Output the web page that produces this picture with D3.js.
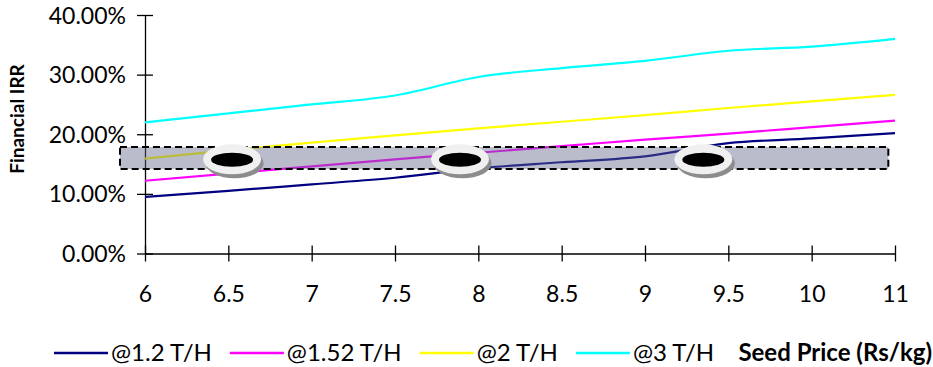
<!DOCTYPE html>
<html>
<head>
<meta charset="utf-8">
<script src="https://cdn.jsdelivr.net/npm/d3@7"></script>
<style>
  body { margin: 0; background: #fff; }
  text { font-family: Lato, "Open Sans", sans-serif; fill: #000; }
</style>
</head>
<body>
<div id="chart"></div>
<script>
// seed price categories (category axis, evenly spaced)
const categories = ["6", "6.5", "7", "7.5", "8", "8.5", "9", "9.5", "10", "11"];

// financial IRR per yield level
const irr12 = [0.095, 0.105, 0.116, 0.127, 0.143, 0.153, 0.163, 0.185, 0.193, 0.202];
const irr152 = [0.122, 0.134, 0.146, 0.158, 0.169, 0.180, 0.191, 0.201, 0.212, 0.223];
const irr2 = [0.159, 0.173, 0.186, 0.198, 0.210, 0.221, 0.232, 0.244, 0.255, 0.266];
const irr3 = [0.220, 0.235, 0.250, 0.265, 0.296, 0.311, 0.323, 0.340, 0.347, 0.360];

const seriesNames = ["@1.2 T/H", "@1.52 T/H", "@2 T/H", "@3 T/H"];
const seriesColors = ["#000080", "#ff00ff", "#ffff00", "#00ffff"];
const yTicks = [0, 0.1, 0.2, 0.3, 0.4];

// highlighted band (IRR range) and the three marker positions (category index)
const bandRange = [0.1417, 0.1786];
const bandIndex = [-0.3, 8.92];
const markerIndex = [1.045, 3.78, 6.7];
const markerIrr = 0.158;

const width = 933, height = 367;
const margin = { top: 15, right: 38, bottom: 113.5, left: 145 };

const svg = d3.select("#chart").append("svg")
  .attr("width", width)
  .attr("height", height);

const x = d3.scaleLinear()
  .domain([0, categories.length - 1])
  .range([margin.left, width - margin.right]);

const y = d3.scaleLinear()
  .domain([0, 0.4])
  .range([height - margin.bottom, margin.top]);

// y axis
const yAxisG = svg.append("g")
  .attr("transform", `translate(${margin.left},0)`)
  .call(d3.axisLeft(y).tickValues(yTicks).tickFormat(d3.format(".2%")).tickSizeOuter(0));
yAxisG.select(".domain").attr("stroke", "#000").attr("stroke-width", 1.3);
yAxisG.selectAll(".tick line").attr("x1", -8).attr("x2", 8).attr("stroke-width", 1.3);
yAxisG.selectAll(".tick text")
  .attr("x", -19).attr("dy", "0.35em")
  .style("font-size", "23px");

// x axis
const xAxisG = svg.append("g")
  .attr("transform", `translate(0,${y(0)})`)
  .call(d3.axisBottom(x).tickValues(d3.range(categories.length))
    .tickFormat(i => categories[i]).tickSizeOuter(0));
xAxisG.select(".domain").attr("stroke", "#000").attr("stroke-width", 1.3);
xAxisG.selectAll(".tick line").attr("y1", -8).attr("y2", 8).attr("stroke-width", 1.3);
xAxisG.selectAll(".tick text")
  .attr("y", 48).attr("dy", null)
  .style("font-size", "23px");

// lines
const line = d3.line()
  .x((d, i) => x(i))
  .y(d => y(d))
  .curve(d3.curveMonotoneX);

const allSeries = [irr12, irr152, irr2, irr3];
svg.append("g")
  .selectAll("path")
  .data(allSeries)
  .join("path")
  .attr("fill", "none")
  .attr("stroke", (d, i) => seriesColors[i])
  .attr("stroke-width", 2.2)
  .attr("d", line);

// translucent band
svg.append("rect")
  .attr("x", x(bandIndex[0]))
  .attr("y", y(bandRange[1]))
  .attr("width", x(bandIndex[1]) - x(bandIndex[0]))
  .attr("height", y(bandRange[0]) - y(bandRange[1]))
  .attr("fill", "rgb(99,103,138)")
  .attr("fill-opacity", 0.44)
  .attr("stroke", "#000")
  .attr("stroke-width", 2)
  .attr("stroke-dasharray", "7,4");

// ring markers
const markers = svg.append("g")
  .selectAll("g")
  .data(markerIndex)
  .join("g")
  .attr("transform", d => `translate(${x(d)},${y(markerIrr)})`);
markers.append("ellipse")
  .attr("cx", 2.5).attr("cy", 4).attr("rx", 29).attr("ry", 15)
  .attr("fill", "#8c8c8c");
markers.append("ellipse")
  .attr("rx", 29).attr("ry", 15)
  .attr("fill", "#f0f0f0");
markers.append("ellipse")
  .attr("cy", 0.5).attr("rx", 21).attr("ry", 7)
  .attr("fill", "#000");

// y title
svg.append("text")
  .attr("transform", `translate(24,${119}) rotate(-90)`)
  .attr("text-anchor", "middle")
  .style("font-size", "19px")
  .style("font-weight", "bold")
  .text("Financial IRR");

// legend
const legendY = 353;
let lx = 54;
seriesNames.forEach((name, i) => {
  svg.append("line")
    .attr("x1", lx).attr("x2", lx + 54)
    .attr("y1", legendY).attr("y2", legendY)
    .attr("stroke", seriesColors[i])
    .attr("stroke-width", 2.5);
  const t = svg.append("text")
    .attr("x", lx + 57).attr("y", legendY)
    .attr("dy", "0.35em")
    .style("font-size", "24px")
    .text(name);
  lx = lx + 57 + t.node().getComputedTextLength() + 18;
});

// x title
svg.append("text")
  .attr("x", width - 1).attr("y", legendY)
  .attr("dy", "0.35em")
  .attr("text-anchor", "end")
  .style("font-size", "24px")
  .style("font-weight", "bold")
  .text("Seed Price (Rs/kg)");
</script>
</body>
</html>
